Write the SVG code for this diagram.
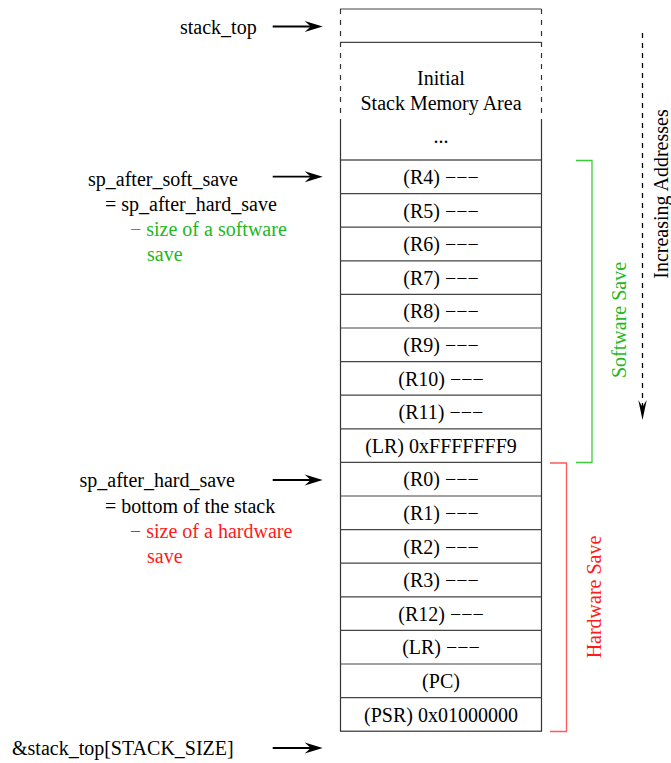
<svg xmlns="http://www.w3.org/2000/svg" width="671" height="763" viewBox="0 0 671 763">
<style>
text{font-family:"Liberation Serif","Times New Roman",serif;font-size:20px;fill:#000}
.c{text-anchor:middle}
.g{fill:#1db81d}
.r{fill:#ff1a1a}
.cell{fill:none;stroke:#333;stroke-width:1.2}
.row{stroke:#444;stroke-width:1.2}
.dash{stroke:#333;stroke-width:1.2;stroke-dasharray:5,6}
.conn{stroke:#000;stroke-width:1.8;fill:none}
</style>
<defs>
<marker id="ah" viewBox="-19 -6 19 12" markerWidth="19" markerHeight="12" refX="-9" refY="0" orient="auto" markerUnits="userSpaceOnUse">
<path d="M0,0 L-18,-5.5 L-12,0 L-18,5.5 Z" fill="#000"/>
</marker>
<marker id="ahd" viewBox="-21 -5 21 10" markerWidth="21" markerHeight="10" refX="-10" refY="0" orient="auto" markerUnits="userSpaceOnUse">
<path d="M0,0 L-20,-4.2 L-13,0 L-20,4.2 Z" fill="#000"/>
</marker>
</defs>

<g id="stack-top-area">
<line x1="340" y1="9" x2="541.5" y2="9" class="row"/>
<line x1="340.5" y1="9" x2="340.5" y2="120" class="dash"/>
<line x1="541.5" y1="9" x2="541.5" y2="120" class="dash"/>
<line x1="340" y1="42.3" x2="541.5" y2="42.3" class="row"/>
<line x1="340.5" y1="120" x2="340.5" y2="160" class="cell"/>
<line x1="541.5" y1="120" x2="541.5" y2="160" class="cell"/>
<text x="441" y="85" class="c">Initial</text>
<text x="441" y="110" class="c">Stack Memory Area</text>
<text x="441" y="143" class="c">...</text>
</g>

<g id="stack-frame">
<rect x="340.5" y="160" width="201" height="571.2" class="cell"/>
<g class="row">
<line x1="340.5" y1="193.6" x2="541.5" y2="193.6"/>
<line x1="340.5" y1="227.2" x2="541.5" y2="227.2"/>
<line x1="340.5" y1="260.8" x2="541.5" y2="260.8"/>
<line x1="340.5" y1="294.4" x2="541.5" y2="294.4"/>
<line x1="340.5" y1="328" x2="541.5" y2="328"/>
<line x1="340.5" y1="361.6" x2="541.5" y2="361.6"/>
<line x1="340.5" y1="395.2" x2="541.5" y2="395.2"/>
<line x1="340.5" y1="428.8" x2="541.5" y2="428.8"/>
<line x1="340.5" y1="462.4" x2="541.5" y2="462.4"/>
<line x1="340.5" y1="496" x2="541.5" y2="496"/>
<line x1="340.5" y1="529.6" x2="541.5" y2="529.6"/>
<line x1="340.5" y1="563.2" x2="541.5" y2="563.2"/>
<line x1="340.5" y1="596.8" x2="541.5" y2="596.8"/>
<line x1="340.5" y1="630.4" x2="541.5" y2="630.4"/>
<line x1="340.5" y1="664" x2="541.5" y2="664"/>
<line x1="340.5" y1="697.6" x2="541.5" y2="697.6"/>
</g>
</g>

<g id="row-r4"><text x="441" y="184" class="c">(R4) −−−</text></g>
<g id="row-r5"><text x="441" y="217.6" class="c">(R5) −−−</text></g>
<g id="row-r6"><text x="441" y="251.2" class="c">(R6) −−−</text></g>
<g id="row-r7"><text x="441" y="284.8" class="c">(R7) −−−</text></g>
<g id="row-r8"><text x="441" y="318.4" class="c">(R8) −−−</text></g>
<g id="row-r9"><text x="441" y="352" class="c">(R9) −−−</text></g>
<g id="row-r10"><text x="441" y="385.6" class="c">(R10) −−−</text></g>
<g id="row-r11"><text x="441" y="419.2" class="c">(R11) −−−</text></g>
<g id="row-lr-soft"><text x="441" y="452.8" class="c">(LR) 0xFFFFFFF9</text></g>
<g id="row-r0"><text x="441" y="486.4" class="c">(R0) −−−</text></g>
<g id="row-r1"><text x="441" y="520" class="c">(R1) −−−</text></g>
<g id="row-r2"><text x="441" y="553.6" class="c">(R2) −−−</text></g>
<g id="row-r3"><text x="441" y="587.2" class="c">(R3) −−−</text></g>
<g id="row-r12"><text x="441" y="620.8" class="c">(R12) −−−</text></g>
<g id="row-lr-hard"><text x="441" y="654.4" class="c">(LR) −−−</text></g>
<g id="row-pc"><text x="441" y="688" class="c">(PC)</text></g>
<g id="row-psr"><text x="441" y="721.6" class="c">(PSR) 0x01000000</text></g>

<g id="label-stack-top"><text x="180" y="33.5">stack_top</text></g>
<g id="label-soft-save">
<text x="88" y="186">sp_after_soft_save</text>
<text x="105" y="211">= sp_after_hard_save</text>
<text x="130" y="236" class="g">− size of a software</text>
<text x="147" y="261" class="g">save</text>
</g>
<g id="label-hard-save">
<text x="79.5" y="487">sp_after_hard_save</text>
<text x="105" y="512.5">= bottom of the stack</text>
<text x="130" y="538" class="r">− size of a hardware</text>
<text x="147" y="563" class="r">save</text>
</g>
<g id="label-stack-bottom"><text x="12" y="755">&amp;stack_top[STACK_SIZE]</text></g>

<g id="software-save">
<polyline points="576,160.5 592,160.5 592,462.5 576,462.5" fill="none" stroke="#3fc93f" stroke-width="1.3"/>
<text transform="translate(626,320) rotate(-90)" class="c g">Software Save</text>
</g>
<g id="hardware-save">
<polyline points="550,463 566.5,463 566.5,731.5 550,731.5" fill="none" stroke="#ff5a5a" stroke-width="1.3"/>
<text transform="translate(601,597) rotate(-90)" class="c r">Hardware Save</text>
</g>
<g id="increasing-addresses">
<text transform="translate(668,194) rotate(-90)" class="c">Increasing Addresses</text>
</g>

<g id="connectors">
<line x1="272.7" y1="26.5" x2="313.7" y2="26.5" class="conn" marker-end="url(#ah)"/>
<line x1="272.7" y1="176.7" x2="313.7" y2="176.7" class="conn" marker-end="url(#ah)"/>
<line x1="272.7" y1="480" x2="313.7" y2="480" class="conn" marker-end="url(#ah)"/>
<line x1="272.7" y1="748" x2="313.7" y2="748" class="conn" marker-end="url(#ah)"/>
<line x1="642.5" y1="33" x2="642.5" y2="410" stroke="#000" stroke-width="1.3" stroke-dasharray="5,5" marker-end="url(#ahd)"/>
</g>
</svg>
